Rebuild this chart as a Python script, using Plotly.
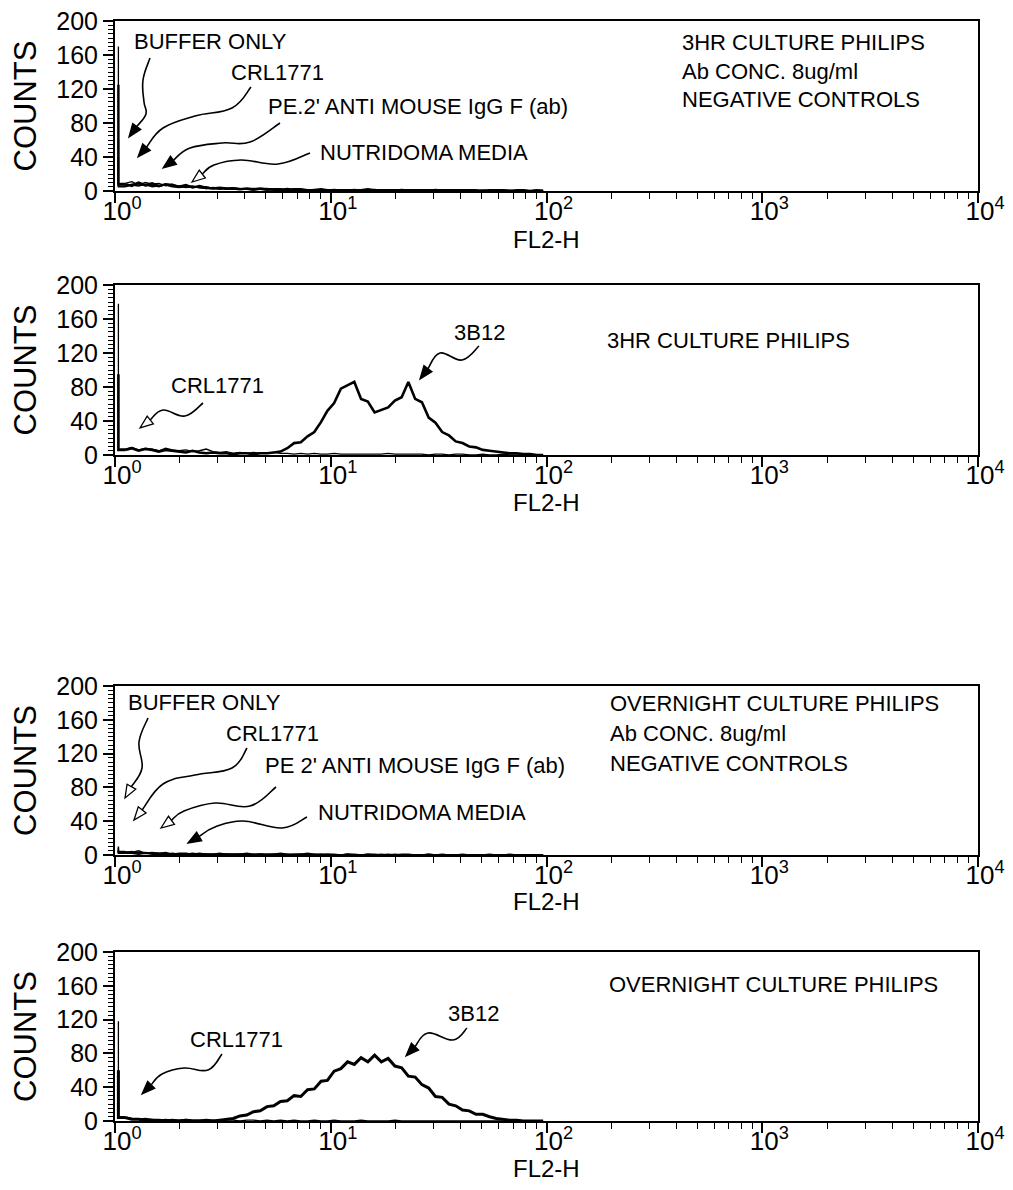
import plotly.graph_objects as go

W, H = 1013, 1190

# ---------------- data ----------------
# FL2-H bin centres (32 channels per decade, 10^0 .. 10^2)
FL2_H = [1.037, 1.114, 1.197, 1.286, 1.382, 1.486, 1.597, 1.716, 1.845, 1.983,
         2.131, 2.290, 2.462, 2.646, 2.844, 3.057, 3.285, 3.531, 3.795, 4.079,
         4.384, 4.712, 5.065, 5.444, 5.851, 6.289, 6.759, 7.265, 7.808, 8.392,
         9.020, 9.647, 10.37, 11.14, 11.97, 12.86, 13.82, 14.86, 15.97, 17.16,
         18.45, 19.83, 21.31, 22.90, 24.62, 26.46, 28.44, 30.57, 32.85, 35.31,
         37.95, 40.79, 43.84, 47.12, 50.65, 54.44, 58.51, 62.89, 67.59, 72.65,
         78.08, 83.92, 90.20, 96.47]

# Panel 1: 3HR culture, negative controls
p1_buffer = [170, 9, 11, 7, 10, 8, 9, 6, 8, 5, 6, 5, 4, 5, 3, 4, 3, 4, 3, 2, 3, 2, 3, 2, 2, 3, 2, 2, 1, 2, 2, 1,
             2, 1, 1, 2, 1, 1, 2, 1, 1, 1, 2, 1, 1, 1, 1, 2, 1, 1, 1, 1, 1, 0, 1, 1, 0, 1, 1, 0, 1, 0, 1, 1]
p1_crl1771 = [125, 8, 6, 10, 7, 9, 6, 8, 7, 5, 7, 4, 6, 4, 3, 4, 3, 3, 2, 3, 2, 3, 2, 2, 2, 1, 2, 2, 1, 1, 2, 1,
              1, 1, 1, 1, 1, 2, 1, 1, 1, 1, 1, 1, 1, 1, 1, 1, 1, 1, 1, 1, 1, 1, 0, 1, 1, 1, 0, 1, 1, 0, 1, 0]
p1_pe = [60, 6, 8, 9, 6, 7, 5, 8, 6, 6, 4, 5, 4, 3, 4, 3, 2, 3, 2, 2, 2, 2, 1, 2, 1, 1, 2, 1, 1, 1, 1, 1,
         1, 1, 1, 1, 1, 1, 1, 1, 0, 1, 1, 1, 1, 0, 1, 1, 0, 1, 0, 1, 0, 0, 1, 0, 0, 1, 0, 0, 0, 0, 0, 0]
p1_nutridoma = [40, 5, 7, 6, 8, 5, 6, 7, 5, 4, 5, 6, 4, 3, 3, 2, 3, 2, 2, 2, 1, 2, 2, 1, 1, 1, 1, 1, 1, 1, 1, 1,
                0, 1, 1, 0, 1, 1, 0, 1, 1, 0, 1, 0, 0, 1, 0, 0, 1, 0, 0, 0, 1, 0, 0, 0, 0, 0, 0, 0, 0, 0, 0, 0]

# Panel 2: 3HR culture
p2_crl1771 = [178, 7, 9, 6, 8, 7, 5, 8, 6, 5, 6, 4, 5, 7, 4, 3, 4, 2, 3, 2, 3, 2, 2, 3, 2, 2, 1, 2, 1, 2, 1, 1,
              2, 1, 1, 1, 1, 1, 1, 1, 2, 1, 1, 1, 1, 1, 0, 1, 1, 0, 1, 1, 0, 0, 1, 0, 0, 1, 0, 0, 0, 0, 0, 0]
p2_3b12 = [95, 6, 8, 5, 7, 6, 4, 6, 5, 4, 3, 5, 3, 2, 3, 2, 2, 1, 2, 2, 1, 2, 2, 3,
           4, 8, 14, 15, 22, 27,
           39, 52, 61, 78, 82, 86, 66, 63, 50, 53, 56, 64, 68, 86, 66, 62, 44, 38, 27, 23, 16, 14, 10, 9, 6, 5,
           4, 3, 2, 2, 1, 1, 0, 0]

# Panel 3: overnight culture, negative controls
p3_buffer = [10, 4, 3, 5, 2, 3, 2, 3, 1, 2, 2, 1, 2, 1, 1, 2, 1, 1, 1, 2, 1, 1, 1, 1, 2, 1, 1, 1, 2, 1, 1, 1,
             1, 0, 1, 1, 0, 1, 1, 0, 1, 0, 1, 1, 0, 0, 1, 0, 1, 0, 0, 1, 0, 0, 0, 1, 0, 0, 1, 0, 0, 0, 0, 0]
p3_crl1771 = [8, 3, 4, 2, 3, 2, 2, 1, 2, 1, 1, 2, 1, 1, 1, 1, 1, 1, 1, 1, 0, 1, 1, 1, 1, 0, 1, 1, 0, 1, 0, 1,
              0, 0, 1, 0, 0, 1, 0, 0, 0, 1, 0, 0, 0, 0, 1, 0, 0, 0, 0, 0, 0, 0, 0, 0, 0, 0, 0, 0, 0, 0, 0, 0]
p3_pe = [6, 3, 2, 3, 2, 2, 1, 2, 1, 1, 1, 1, 1, 1, 1, 0, 1, 1, 1, 0, 1, 1, 0, 1, 0, 1, 0, 1, 0, 0, 1, 0,
         0, 0, 1, 0, 0, 0, 0, 1, 0, 0, 0, 0, 0, 0, 0, 0, 0, 0, 0, 0, 0, 0, 0, 0, 0, 0, 0, 0, 0, 0, 0, 0]
p3_nutridoma = [5, 2, 2, 1, 2, 1, 1, 1, 1, 1, 1, 0, 1, 1, 0, 1, 1, 0, 1, 0, 0, 1, 0, 0, 1, 0, 0, 0, 1, 0, 0, 0,
                0, 0, 0, 0, 0, 0, 0, 0, 0, 0, 0, 0, 0, 0, 0, 0, 0, 0, 0, 0, 0, 0, 0, 0, 0, 0, 0, 0, 0, 0, 0, 0]

# Panel 4: overnight culture
p4_crl1771 = [118, 5, 3, 2, 3, 2, 1, 2, 1, 1, 2, 1, 1, 1, 1, 0, 1, 1, 0, 1, 1, 0, 1, 0, 1, 0, 1, 0, 0, 1, 0, 0,
              1, 0, 0, 0, 1, 0, 0, 0, 0, 1, 0, 0, 0, 0, 0, 0, 0, 0, 0, 0, 0, 0, 0, 0, 0, 0, 0, 0, 0, 0, 0, 0]
p4_3b12 = [60, 4, 2, 2, 1, 1, 1, 0, 1, 0, 1, 0, 0, 1, 0,
           1, 2, 3, 6, 7, 11, 12, 17, 18, 23, 24, 30, 29, 37, 38, 47, 48, 59, 62, 70, 67, 75, 70, 78, 70,
           74, 65, 63, 53, 52, 43, 39, 29, 28, 20, 18, 13, 12, 8, 8, 5, 3, 2, 1, 1, 0, 0, 0, 0]

X_TICKS = [1, 10, 100, 1000, 10000]
X_TICK_TEXT = ["10<sup>0</sup>", "10<sup>1</sup>", "10<sup>2</sup>", "10<sup>3</sup>", "10<sup>4</sup>"]
X_MINOR = [m * d for d in (1, 10, 100, 1000) for m in range(2, 10)]
Y_TICKS = [0, 40, 80, 120, 160, 200]

# ---------------- layout helpers ----------------
def px(x):
    return x / W

def py(y):
    return 1 - y / H

FONT = "Liberation Sans, Arial, sans-serif"
XL, XR = 115, 978
panels = [(21, 191), (285, 455), (686, 855), (952, 1121)]  # pixel rows of y=200 and y=0
xtitle_y = [240, 502, 901, 1168]

fig = go.Figure()

series = [
    (1, [(p1_buffer, 1.3), (p1_pe, 1.5), (p1_nutridoma, 1.5), (p1_crl1771, 2.4)]),
    (2, [(p2_crl1771, 1.3), (p2_3b12, 2.6)]),
    (3, [(p3_buffer, 1.5), (p3_crl1771, 1.5), (p3_pe, 1.5), (p3_nutridoma, 1.5)]),
    (4, [(p4_crl1771, 1.3), (p4_3b12, 3.0)]),
]
for i, lst in series:
    suffix = "" if i == 1 else str(i)
    for ys, lw in lst:
        assert len(ys) == len(FL2_H)
        # first channel (pile-up spike) drawn as a vertical step
        fig.add_trace(go.Scatter(x=FL2_H[:2], y=ys[:2], mode="lines", line_shape="vh",
                                 xaxis="x" + suffix, yaxis="y" + suffix,
                                 line=dict(color="black", width=lw), showlegend=False, hoverinfo="skip"))
        fig.add_trace(go.Scatter(x=FL2_H[1:], y=ys[1:], mode="lines", xaxis="x" + suffix, yaxis="y" + suffix,
                                 line=dict(color="black", width=lw), showlegend=False, hoverinfo="skip"))

for i, (ytop, ybot) in enumerate(panels, start=1):
    suffix = "" if i == 1 else str(i)
    fig.layout["xaxis" + suffix] = dict(
        type="log", range=[0, 4], domain=[px(XL), px(XR)], anchor="y" + suffix,
        tickvals=X_TICKS, ticktext=X_TICK_TEXT, ticks="outside", ticklen=10, tickwidth=1.6,
        tickcolor="black", showline=True, linecolor="black", linewidth=2, mirror=True,
        showgrid=False, zeroline=False, tickfont=dict(family=FONT, size=26, color="black"),
        ticklabelshift=7, ticklabelstandoff=-14,
        minor=dict(tickvals=X_MINOR, ticks="outside", ticklen=6, tickwidth=1.4, tickcolor="black", showgrid=False),
        automargin=False, fixedrange=True)
    fig.layout["yaxis" + suffix] = dict(
        range=[0, 200], domain=[py(ybot), py(ytop)], anchor="x" + suffix,
        tickvals=Y_TICKS, ticks="outside", ticklen=10, tickwidth=1.6, tickcolor="black",
        showline=True, linecolor="black", linewidth=2, mirror=True, showgrid=False, zeroline=False,
        tickfont=dict(family=FONT, size=25, color="black"),
        minor=dict(dtick=5, ticks="outside", ticklen=5, tickwidth=1.2, tickcolor="black", showgrid=False),
        title=dict(text="COUNTS", font=dict(family=FONT, size=31, color="black"), standoff=10),
        automargin=False, fixedrange=True)

annotations = []
shapes = []

def label(text, x, y, size=22, xanchor="left"):
    annotations.append(dict(text=text, x=px(x), y=py(y), xref="paper", yref="paper",
                            xanchor=xanchor, yanchor="middle", showarrow=False,
                            font=dict(family=FONT, size=size, color="black")))

for yy in xtitle_y:
    label("FL2-H", (XL + XR) / 2, yy, size=24, xanchor="center")

def curve(points, hollow=False):
    # smooth path through pixel points, with a triangular arrowhead at the last point
    (xa, ya), (xb, yb) = points[-2], points[-1]
    L = ((xb - xa) ** 2 + (yb - ya) ** 2) ** 0.5
    ux, uy = (xb - xa) / L, (yb - ya) / L
    hl, hw = 13, 5
    bx, by = xb - ux * hl, yb - uy * hl
    pts_px = points[:-1] + [(bx, by)]
    pts = [(px(a), py(b)) for a, b in pts_px]
    d = "M %.5f %.5f" % pts[0]
    for j in range(len(pts) - 1):
        p0 = pts[j - 1] if j > 0 else pts[j]
        p1, p2 = pts[j], pts[j + 1]
        p3 = pts[j + 2] if j + 2 < len(pts) else p2
        c1 = (p1[0] + (p2[0] - p0[0]) / 5, p1[1] + (p2[1] - p0[1]) / 5)
        c2 = (p2[0] - (p3[0] - p1[0]) / 5, p2[1] - (p3[1] - p1[1]) / 5)
        d += " C %.5f %.5f %.5f %.5f %.5f %.5f" % (c1 + c2 + p2)
    shapes.append(dict(type="path", path=d, xref="paper", yref="paper",
                       line=dict(color="black", width=1.6)))
    nx, ny = -uy, ux
    tri = [(xb, yb), (bx + nx * hw, by + ny * hw), (bx - nx * hw, by - ny * hw)]
    tp = "M %.5f %.5f L %.5f %.5f L %.5f %.5f Z" % tuple(v for a, b in tri for v in (px(a), py(b)))
    shapes.append(dict(type="path", path=tp, xref="paper", yref="paper",
                       line=dict(color="black", width=1.3),
                       fillcolor="white" if hollow else "black"))

# Panel 1
label("BUFFER ONLY", 132, 42)
label("CRL1771", 229, 72)
label("PE.2' ANTI MOUSE IgG F (ab)", 266, 106)
label("NUTRIDOMA MEDIA", 318, 152)
label("3HR CULTURE PHILIPS", 680, 43)
label("Ab CONC. 8ug/ml", 680, 71)
label("NEGATIVE CONTROLS", 680, 99)
curve([(150, 58), (143, 80), (144, 102), (146, 114), (129, 137)])
curve([(251, 87), (232, 108), (195, 116), (163, 128), (138, 157)])
curve([(280, 123), (250, 142), (222, 143), (190, 148), (163, 168)])
curve([(310, 153), (278, 164), (241, 160), (214, 165), (192, 182)], hollow=True)

# Panel 2
label("CRL1771", 169, 386)
label("3B12", 452, 332)
label("3HR CULTURE PHILIPS", 605, 340)
curve([(203, 403), (185, 416), (163, 410), (140, 428)], hollow=True)
curve([(479, 346), (462, 360), (440, 353), (420, 379)])

# Panel 3
label("BUFFER ONLY", 126, 702)
label("CRL1771", 224, 733)
label("PE 2' ANTI MOUSE IgG F (ab)", 263, 765)
label("NUTRIDOMA MEDIA", 316, 812)
label("OVERNIGHT CULTURE PHILIPS", 608, 703)
label("Ab CONC. 8ug/ml", 608, 733)
label("NEGATIVE CONTROLS", 608, 763)
curve([(148, 718), (139, 742), (142, 768), (125, 798)], hollow=True)
curve([(247, 748), (232, 768), (195, 775), (163, 784), (134, 820)], hollow=True)
curve([(276, 787), (250, 806), (215, 803), (184, 811), (161, 828)], hollow=True)
curve([(307, 817), (282, 828), (243, 821), (215, 827), (188, 843)])

# Panel 4
label("OVERNIGHT CULTURE PHILIPS", 607, 985)
label("3B12", 446, 1013)
label("CRL1771", 188, 1039)
curve([(222, 1054), (208, 1070), (184, 1068), (162, 1074), (142, 1094)])
curve([(467, 1028), (453, 1040), (428, 1033), (406, 1056)])

fig.update_layout(width=W, height=H, margin=dict(l=0, r=0, t=0, b=0),
                  paper_bgcolor="white", plot_bgcolor="white",
                  annotations=annotations, shapes=shapes, showlegend=False)

fig.write_html("out.html")
